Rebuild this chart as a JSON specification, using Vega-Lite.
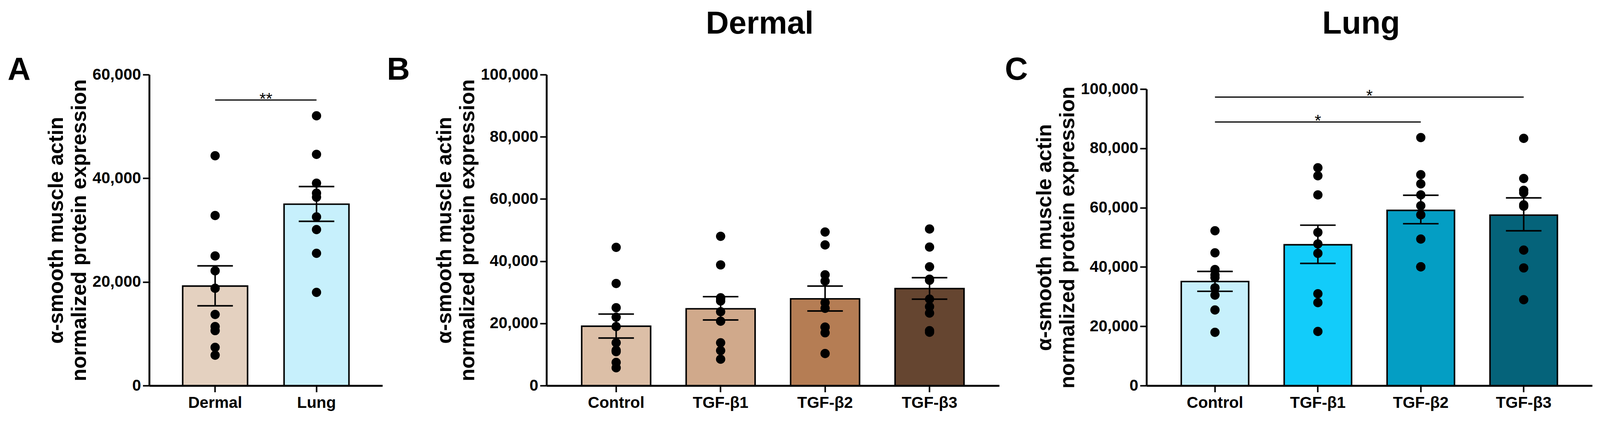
{
  "$schema": "https://vega.github.io/schema/vega-lite/v6.json",
  "padding": {"left": 19, "top": 21, "right": 12, "bottom": 5},
  "background": "white",
  "bounds": "flush",
  "spacing": 377,
  "resolve": {"scale": {"color": "independent"}},
  "config": {
    "font": "Liberation Sans",
    "view": {"stroke": null},
    "axis": {"domainColor": "black", "domainWidth": 4.8, "tickColor": "black", "tickWidth": 3.9, "tickSize": 16.5, "labelFont": "Liberation Sans", "labelFontSize": 40.7, "labelFontWeight": "bold", "labelColor": "black", "titleFont": "Liberation Sans", "titleFontSize": 53.3, "titleFontWeight": "bold", "titleColor": "black", "grid": false, "labelPadding": 4.8},
    "axisX": {"labelAngle": 0, "labelPadding": 7.8, "title": null},
    "axisY": {"titlePadding": 5.8, "titleLineHeight": 59, "labelFlush": false, "labelOverlap": false},
    "title": {"font": "Liberation Sans", "fontWeight": "bold", "fontSize": 81.4, "color": "black", "anchor": "start", "offset": 0, "baseline": "alphabetic", "frame": "group"}
  },
  "datasets": {
    "A_bars": [
      {"group": "Dermal", "mean": 19200, "lo": 15400, "hi": 23100},
      {"group": "Lung", "mean": 35000, "lo": 31700, "hi": 38400}
    ],
    "A_pts": [
      {"group": "Dermal", "value": 44350, "p": "C"},
      {"group": "Dermal", "value": 32810, "p": "C"},
      {"group": "Dermal", "value": 25010, "p": "C"},
      {"group": "Dermal", "value": 22150, "p": "C"},
      {"group": "Dermal", "value": 18770, "p": "C"},
      {"group": "Dermal", "value": 13730, "p": "C"},
      {"group": "Dermal", "value": 11390, "p": "R"},
      {"group": "Dermal", "value": 10610, "p": "L"},
      {"group": "Dermal", "value": 7380, "p": "R"},
      {"group": "Dermal", "value": 5870, "p": "L"},
      {"group": "Lung", "value": 52050, "p": "C"},
      {"group": "Lung", "value": 44620, "p": "C"},
      {"group": "Lung", "value": 39050, "p": "C"},
      {"group": "Lung", "value": 37130, "p": "R"},
      {"group": "Lung", "value": 36350, "p": "L"},
      {"group": "Lung", "value": 32550, "p": "C"},
      {"group": "Lung", "value": 30110, "p": "C"},
      {"group": "Lung", "value": 25530, "p": "C"},
      {"group": "Lung", "value": 17990, "p": "C"}
    ],
    "A_sig": [
      {"group": "Dermal", "to": "Lung", "y": 55100, "label": "**"}
    ],
    "B_bars": [
      {"group": "Control", "mean": 19100, "lo": 15300, "hi": 23000},
      {"group": "TGF-β1", "mean": 24700, "lo": 21100, "hi": 28600},
      {"group": "TGF-β2", "mean": 27900, "lo": 24000, "hi": 32000},
      {"group": "TGF-β3", "mean": 31200, "lo": 27800, "hi": 34700}
    ],
    "B_pts": [
      {"group": "Control", "value": 44460, "p": "C"},
      {"group": "Control", "value": 32840, "p": "C"},
      {"group": "Control", "value": 25045, "p": "L"},
      {"group": "Control", "value": 22010, "p": "R"},
      {"group": "Control", "value": 18980, "p": "C"},
      {"group": "Control", "value": 13780, "p": "L"},
      {"group": "Control", "value": 11350, "p": "R"},
      {"group": "Control", "value": 10920, "p": "L"},
      {"group": "Control", "value": 7450, "p": "R"},
      {"group": "Control", "value": 5720, "p": "L"},
      {"group": "TGF-β1", "value": 48010, "p": "C"},
      {"group": "TGF-β1", "value": 38820, "p": "C"},
      {"group": "TGF-β1", "value": 28250, "p": "L"},
      {"group": "TGF-β1", "value": 27990, "p": "R"},
      {"group": "TGF-β1", "value": 27210, "p": "C"},
      {"group": "TGF-β1", "value": 23750, "p": "L"},
      {"group": "TGF-β1", "value": 20710, "p": "C"},
      {"group": "TGF-β1", "value": 13780, "p": "C"},
      {"group": "TGF-β1", "value": 11270, "p": "R"},
      {"group": "TGF-β1", "value": 8490, "p": "L"},
      {"group": "TGF-β2", "value": 49400, "p": "C"},
      {"group": "TGF-β2", "value": 45240, "p": "C"},
      {"group": "TGF-β2", "value": 35620, "p": "R"},
      {"group": "TGF-β2", "value": 33620, "p": "C"},
      {"group": "TGF-β2", "value": 26690, "p": "R"},
      {"group": "TGF-β2", "value": 24870, "p": "C"},
      {"group": "TGF-β2", "value": 18800, "p": "L"},
      {"group": "TGF-β2", "value": 18800, "p": "R"},
      {"group": "TGF-β2", "value": 16990, "p": "C"},
      {"group": "TGF-β2", "value": 10310, "p": "C"},
      {"group": "TGF-β3", "value": 50350, "p": "C"},
      {"group": "TGF-β3", "value": 44540, "p": "C"},
      {"group": "TGF-β3", "value": 38220, "p": "C"},
      {"group": "TGF-β3", "value": 33880, "p": "L"},
      {"group": "TGF-β3", "value": 34230, "p": "R"},
      {"group": "TGF-β3", "value": 27820, "p": "L"},
      {"group": "TGF-β3", "value": 25390, "p": "R"},
      {"group": "TGF-β3", "value": 23310, "p": "L"},
      {"group": "TGF-β3", "value": 17160, "p": "L"},
      {"group": "TGF-β3", "value": 17680, "p": "R"}
    ],
    "C_bars": [
      {"group": "Control", "mean": 35100, "lo": 31800, "hi": 38500},
      {"group": "TGF-β1", "mean": 47500, "lo": 41200, "hi": 54100},
      {"group": "TGF-β2", "mean": 59100, "lo": 54600, "hi": 64200},
      {"group": "TGF-β3", "mean": 57500, "lo": 52200, "hi": 63300}
    ],
    "C_pts": [
      {"group": "Control", "value": 52230, "p": "C"},
      {"group": "Control", "value": 44780, "p": "C"},
      {"group": "Control", "value": 39150, "p": "R"},
      {"group": "Control", "value": 37330, "p": "L"},
      {"group": "Control", "value": 36420, "p": "C"},
      {"group": "Control", "value": 32970, "p": "R"},
      {"group": "Control", "value": 30520, "p": "C"},
      {"group": "Control", "value": 25520, "p": "C"},
      {"group": "Control", "value": 17980, "p": "C"},
      {"group": "TGF-β1", "value": 73480, "p": "L"},
      {"group": "TGF-β1", "value": 70760, "p": "R"},
      {"group": "TGF-β1", "value": 64310, "p": "C"},
      {"group": "TGF-β1", "value": 51680, "p": "C"},
      {"group": "TGF-β1", "value": 47780, "p": "C"},
      {"group": "TGF-β1", "value": 44600, "p": "C"},
      {"group": "TGF-β1", "value": 30970, "p": "C"},
      {"group": "TGF-β1", "value": 27980, "p": "C"},
      {"group": "TGF-β1", "value": 18260, "p": "C"},
      {"group": "TGF-β2", "value": 83650, "p": "C"},
      {"group": "TGF-β2", "value": 71120, "p": "C"},
      {"group": "TGF-β2", "value": 68030, "p": "C"},
      {"group": "TGF-β2", "value": 64310, "p": "C"},
      {"group": "TGF-β2", "value": 60670, "p": "L"},
      {"group": "TGF-β2", "value": 57590, "p": "R"},
      {"group": "TGF-β2", "value": 49410, "p": "C"},
      {"group": "TGF-β2", "value": 40060, "p": "L"},
      {"group": "TGF-β2", "value": 40060, "p": "R"},
      {"group": "TGF-β3", "value": 83380, "p": "C"},
      {"group": "TGF-β3", "value": 69850, "p": "C"},
      {"group": "TGF-β3", "value": 65850, "p": "L"},
      {"group": "TGF-β3", "value": 65030, "p": "R"},
      {"group": "TGF-β3", "value": 60950, "p": "L"},
      {"group": "TGF-β3", "value": 60490, "p": "R"},
      {"group": "TGF-β3", "value": 45690, "p": "C"},
      {"group": "TGF-β3", "value": 39690, "p": "C"},
      {"group": "TGF-β3", "value": 28980, "p": "C"}
    ],
    "C_sig": [
      {"group": "Control", "to": "TGF-β3", "y": 97300},
      {"group": "Control", "to": "TGF-β2", "y": 88900}
    ],
    "C_stars": [
      {"group": "TGF-β1", "y": 97300, "label": "*", "b": "long"},
      {"group": "TGF-β1", "y": 88900, "label": "*", "b": "short"}
    ]
  },
  "hconcat": [
    {
      "width": 640,
      "height": 796,
      "resolve": {"axis": {"x": "independent"}},
      "layer": [
        {
          "data": {"name": "A_bars"},
          "mark": {"type": "bar", "stroke": "black", "strokeWidth": 3.9},
          "encoding": {
            "x": {"field": "group", "type": "nominal", "scale": {"domain": ["Dermal", "Lung"], "range": [0, 597], "paddingInner": 0.36, "paddingOuter": 0.33}, "axis": {"orient": "bottom"}},
            "y": {"field": "mean", "type": "quantitative", "scale": {"domain": [0, 60000], "nice": false}, "axis": {"values": [0, 20000, 40000, 60000], "format": ",.0f", "title": ["α-smooth muscle actin", "normalized protein expression"]}},
            "color": {"field": "group", "type": "nominal", "scale": {"domain": ["Dermal", "Lung"], "range": ["#E4D1C0", "#C7F0FC"]}, "legend": null}
          }
        },
        {
          "data": {"name": "A_bars"},
          "mark": {"type": "rule", "strokeWidth": 3.9, "color": "black"},
          "encoding": {
            "x": {"field": "group", "type": "nominal", "axis": {"orient": "top", "title": "A", "domain": false, "ticks": false, "labels": false, "titleX": -363, "titleY": 12.5, "titleAlign": "left", "titleBaseline": "alphabetic", "titleFontSize": 81.4, "titleFontWeight": "bold", "titleAngle": 0}},
            "y": {"field": "lo", "type": "quantitative"}, "y2": {"field": "hi"}
          }
        },
        {
          "data": {"name": "A_bars"},
          "mark": {"type": "tick", "size": 91, "thickness": 3.9, "color": "black", "opacity": 1},
          "encoding": {"x": {"field": "group", "type": "nominal", "axis": null}, "y": {"field": "lo", "type": "quantitative"}}
        },
        {
          "data": {"name": "A_bars"},
          "mark": {"type": "tick", "size": 91, "thickness": 3.9, "color": "black", "opacity": 1},
          "encoding": {"x": {"field": "group", "type": "nominal", "axis": null}, "y": {"field": "hi", "type": "quantitative"}}
        },
        {
          "data": {"name": "A_pts"},
          "transform": [{"filter": "datum.p === 'C'"}],
          "mark": {"type": "point", "shape": "circle", "filled": true, "color": "black", "size": 563, "opacity": 1},
          "encoding": {"x": {"field": "group", "type": "nominal", "axis": null}, "y": {"field": "value", "type": "quantitative"}}
        },
        {
          "data": {"name": "A_pts"},
          "transform": [{"filter": "datum.p === 'L'"}],
          "mark": {"type": "point", "shape": "circle", "filled": true, "color": "black", "size": 563, "opacity": 1, "dx": -24},
          "encoding": {"x": {"field": "group", "type": "nominal", "axis": null}, "y": {"field": "value", "type": "quantitative"}}
        },
        {
          "data": {"name": "A_pts"},
          "transform": [{"filter": "datum.p === 'R'"}],
          "mark": {"type": "point", "shape": "circle", "filled": true, "color": "black", "size": 563, "opacity": 1, "dx": 24},
          "encoding": {"x": {"field": "group", "type": "nominal", "axis": null}, "y": {"field": "value", "type": "quantitative"}}
        },
        {
          "data": {"name": "A_sig"},
          "mark": {"type": "rule", "strokeWidth": 2.9, "color": "black"},
          "encoding": {"x": {"field": "group", "type": "nominal", "axis": null}, "x2": {"field": "to"}, "y": {"field": "y", "type": "quantitative"}}
        },
        {
          "data": {"name": "A_sig"},
          "mark": {"type": "text", "fontSize": 42.6, "baseline": "alphabetic", "align": "center", "dx": 130, "dy": 10.7, "color": "black"},
          "encoding": {"x": {"field": "group", "type": "nominal", "axis": null}, "y": {"field": "y", "type": "quantitative"}, "text": {"field": "label"}}
        }
      ]
    },
    {
      "width": 1159,
      "height": 796,
      "title": {"text": "Dermal", "dx": 408, "dy": -31},
      "resolve": {"axis": {"x": "independent"}},
      "layer": [
        {
          "data": {"name": "B_bars"},
          "mark": {"type": "bar", "stroke": "black", "strokeWidth": 3.9},
          "encoding": {
            "x": {"field": "group", "type": "nominal", "scale": {"domain": ["Control", "TGF-β1", "TGF-β2", "TGF-β3"], "paddingInner": 0.34, "paddingOuter": 0.337}, "axis": {"orient": "bottom"}},
            "y": {"field": "mean", "type": "quantitative", "scale": {"domain": [0, 100000], "nice": false}, "axis": {"values": [0, 20000, 40000, 60000, 80000, 100000], "format": ",.0f", "title": ["α-smooth muscle actin", "normalized protein expression"]}},
            "color": {"field": "group", "type": "nominal", "scale": {"domain": ["Control", "TGF-β1", "TGF-β2", "TGF-β3"], "range": ["#DCBFA7", "#D0A98B", "#B57D54", "#654530"]}, "legend": null}
          }
        },
        {
          "data": {"name": "B_bars"},
          "mark": {"type": "rule", "strokeWidth": 3.9, "color": "black"},
          "encoding": {
            "x": {"field": "group", "type": "nominal", "axis": {"orient": "top", "title": "B", "domain": false, "ticks": false, "labels": false, "titleX": -409, "titleY": 12.5, "titleAlign": "left", "titleBaseline": "alphabetic", "titleFontSize": 81.4, "titleFontWeight": "bold", "titleAngle": 0}},
            "y": {"field": "lo", "type": "quantitative"}, "y2": {"field": "hi"}
          }
        },
        {
          "data": {"name": "B_bars"},
          "mark": {"type": "tick", "size": 91, "thickness": 3.9, "color": "black", "opacity": 1},
          "encoding": {"x": {"field": "group", "type": "nominal", "axis": null}, "y": {"field": "lo", "type": "quantitative"}}
        },
        {
          "data": {"name": "B_bars"},
          "mark": {"type": "tick", "size": 91, "thickness": 3.9, "color": "black", "opacity": 1},
          "encoding": {"x": {"field": "group", "type": "nominal", "axis": null}, "y": {"field": "hi", "type": "quantitative"}}
        },
        {
          "data": {"name": "B_pts"},
          "transform": [{"filter": "datum.p === 'C'"}],
          "mark": {"type": "point", "shape": "circle", "filled": true, "color": "black", "size": 563, "opacity": 1},
          "encoding": {"x": {"field": "group", "type": "nominal", "axis": null}, "y": {"field": "value", "type": "quantitative"}}
        },
        {
          "data": {"name": "B_pts"},
          "transform": [{"filter": "datum.p === 'L'"}],
          "mark": {"type": "point", "shape": "circle", "filled": true, "color": "black", "size": 563, "opacity": 1, "dx": -23},
          "encoding": {"x": {"field": "group", "type": "nominal", "axis": null}, "y": {"field": "value", "type": "quantitative"}}
        },
        {
          "data": {"name": "B_pts"},
          "transform": [{"filter": "datum.p === 'R'"}],
          "mark": {"type": "point", "shape": "circle", "filled": true, "color": "black", "size": 563, "opacity": 1, "dx": 23},
          "encoding": {"x": {"field": "group", "type": "nominal", "axis": null}, "y": {"field": "value", "type": "quantitative"}}
        }
      ]
    },
    {
      "width": 1141,
      "height": 796,
      "title": {"text": "Lung", "dx": 450, "dy": -31},
      "resolve": {"axis": {"x": "independent"}},
      "layer": [
        {
          "data": {"name": "C_bars"},
          "mark": {"type": "bar", "stroke": "black", "strokeWidth": 3.9},
          "encoding": {
            "x": {"field": "group", "type": "nominal", "scale": {"domain": ["Control", "TGF-β1", "TGF-β2", "TGF-β3"], "paddingInner": 0.345, "paddingOuter": 0.338}, "axis": {"orient": "bottom"}},
            "y": {"field": "mean", "type": "quantitative", "scale": {"domain": [0, 100000], "nice": false, "range": [796, 37]}, "axis": {"values": [0, 20000, 40000, 60000, 80000, 100000], "format": ",.0f", "title": ["α-smooth muscle actin", "normalized protein expression"]}},
            "color": {"field": "group", "type": "nominal", "scale": {"domain": ["Control", "TGF-β1", "TGF-β2", "TGF-β3"], "range": ["#C7F0FC", "#12CCFA", "#049EC4", "#05637A"]}, "legend": null}
          }
        },
        {
          "data": {"name": "C_bars"},
          "mark": {"type": "rule", "strokeWidth": 3.9, "color": "black"},
          "encoding": {
            "x": {"field": "group", "type": "nominal", "axis": {"orient": "top", "title": "C", "domain": false, "ticks": false, "labels": false, "titleX": -363, "titleY": 12.5, "titleAlign": "left", "titleBaseline": "alphabetic", "titleFontSize": 81.4, "titleFontWeight": "bold", "titleAngle": 0}},
            "y": {"field": "lo", "type": "quantitative"}, "y2": {"field": "hi"}
          }
        },
        {
          "data": {"name": "C_bars"},
          "mark": {"type": "tick", "size": 91, "thickness": 3.9, "color": "black", "opacity": 1},
          "encoding": {"x": {"field": "group", "type": "nominal", "axis": null}, "y": {"field": "lo", "type": "quantitative"}}
        },
        {
          "data": {"name": "C_bars"},
          "mark": {"type": "tick", "size": 91, "thickness": 3.9, "color": "black", "opacity": 1},
          "encoding": {"x": {"field": "group", "type": "nominal", "axis": null}, "y": {"field": "hi", "type": "quantitative"}}
        },
        {
          "data": {"name": "C_pts"},
          "transform": [{"filter": "datum.p === 'C'"}],
          "mark": {"type": "point", "shape": "circle", "filled": true, "color": "black", "size": 563, "opacity": 1},
          "encoding": {"x": {"field": "group", "type": "nominal", "axis": null}, "y": {"field": "value", "type": "quantitative"}}
        },
        {
          "data": {"name": "C_pts"},
          "transform": [{"filter": "datum.p === 'L'"}],
          "mark": {"type": "point", "shape": "circle", "filled": true, "color": "black", "size": 563, "opacity": 1, "dx": -23},
          "encoding": {"x": {"field": "group", "type": "nominal", "axis": null}, "y": {"field": "value", "type": "quantitative"}}
        },
        {
          "data": {"name": "C_pts"},
          "transform": [{"filter": "datum.p === 'R'"}],
          "mark": {"type": "point", "shape": "circle", "filled": true, "color": "black", "size": 563, "opacity": 1, "dx": 23},
          "encoding": {"x": {"field": "group", "type": "nominal", "axis": null}, "y": {"field": "value", "type": "quantitative"}}
        },
        {
          "data": {"name": "C_sig"},
          "mark": {"type": "rule", "strokeWidth": 2.9, "color": "black"},
          "encoding": {"x": {"field": "group", "type": "nominal", "axis": null}, "x2": {"field": "to"}, "y": {"field": "y", "type": "quantitative"}}
        },
        {
          "data": {"name": "C_stars"},
          "transform": [{"filter": "datum.b === 'long'"}],
          "mark": {"type": "text", "fontSize": 42.6, "baseline": "alphabetic", "align": "center", "dx": 132, "dy": 10.7, "color": "black"},
          "encoding": {"x": {"field": "group", "type": "nominal", "axis": null}, "y": {"field": "y", "type": "quantitative"}, "text": {"field": "label"}}
        },
        {
          "data": {"name": "C_stars"},
          "transform": [{"filter": "datum.b === 'short'"}],
          "mark": {"type": "text", "fontSize": 42.6, "baseline": "alphabetic", "align": "center", "dx": 0, "dy": 10.7, "color": "black"},
          "encoding": {"x": {"field": "group", "type": "nominal", "axis": null}, "y": {"field": "y", "type": "quantitative"}, "text": {"field": "label"}}
        }
      ]
    }
  ]
}
